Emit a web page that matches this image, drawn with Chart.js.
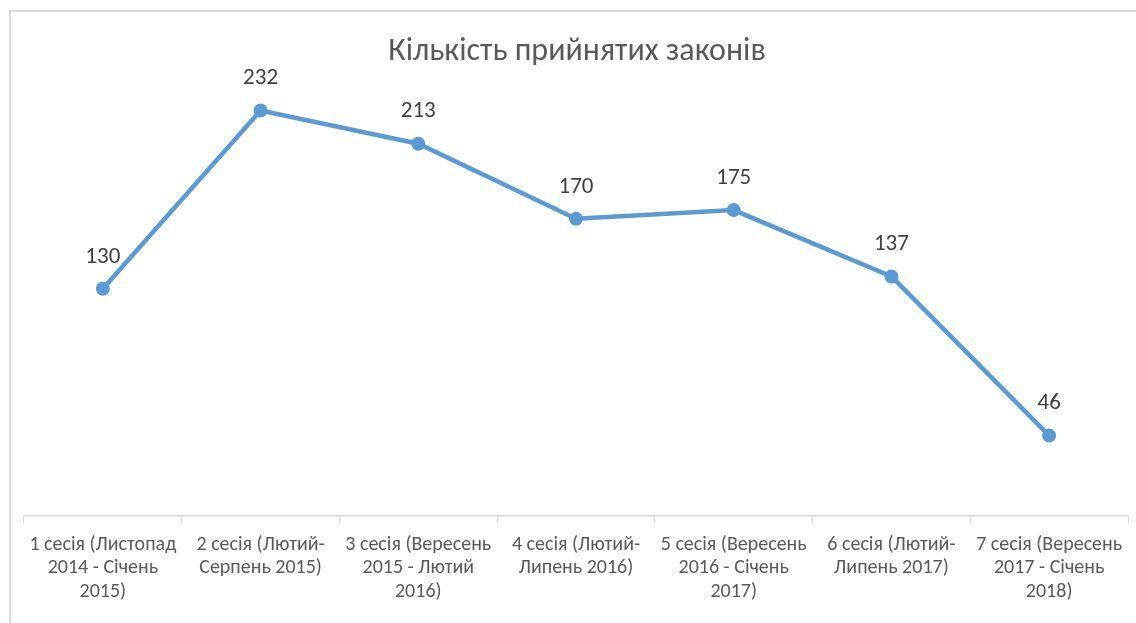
<!DOCTYPE html>
<html>
<head>
<meta charset="utf-8">
<script src="https://cdn.jsdelivr.net/npm/chart.js@4/dist/chart.umd.min.js"></script>
<style>
    html, body { margin: 0; padding: 0; background: #ffffff; overflow: hidden; }
    #frame {
        position: absolute; left: 9px; top: 10px; width: 1200px; height: 700px;
        border-top: 2px solid #d9d9d9; border-left: 2px solid #d9d9d9;
    }
    #wrap { position: absolute; left: 0; top: 0; width: 1136px; height: 623px; }
</style>
</head>
<body>
<div id="frame"></div>
<div id="wrap"><canvas id="chart"></canvas></div>
<script>
'use strict';

// Chart data
const titleText = 'Кількість прийнятих законів';
const sessions = [
    ['1 сесія (Листопад', '2014 - Січень', '2015)'],
    ['2 сесія (Лютий-', 'Серпень 2015)'],
    ['3 сесія (Вересень', '2015 - Лютий', '2016)'],
    ['4 сесія (Лютий-', 'Липень 2016)'],
    ['5 сесія (Вересень', '2016 - Січень', '2017)'],
    ['6 сесія (Лютий-', 'Липень 2017)'],
    ['7 сесія (Вересень', '2017 - Січень', '2018)']
];
const lawsPassed = [130, 232, 213, 170, 175, 137, 46];

const fontFamily = "Carlito, Lato, 'Open Sans', sans-serif";

// Value labels above points
const valueLabels = {
    id: 'valueLabels',
    afterDatasetsDraw(chart) {
        let ctx = chart.ctx;
        let meta = chart.getDatasetMeta(0);
        ctx.save();
        ctx.font = '23px ' + fontFamily;
        ctx.fillStyle = '#404040';
        ctx.textAlign = 'center';
        ctx.textBaseline = 'middle';
        meta.data.forEach((pt, i) => {
            ctx.fillText(String(chart.data.datasets[0].data[i]), pt.x, pt.y - 32);
        });
        ctx.restore();
    }
};

new Chart(document.getElementById('chart').getContext('2d'), {
    type: 'line',
    data: {
        labels: sessions,
        datasets: [{
            label: titleText,
            data: lawsPassed,
            borderColor: '#5b9bd5',
            backgroundColor: '#5b9bd5',
            borderWidth: 4.5,
            pointRadius: 6,
            pointBorderWidth: 2,
            pointBackgroundColor: '#5b9bd5',
            pointBorderColor: '#5b9bd5',
            tension: 0
        }]
    },
    options: {
        responsive: true,
        maintainAspectRatio: false,
        animation: false,
        layout: { padding: { left: 24, right: 6, top: 0, bottom: 0 } },
        plugins: {
            legend: { display: false },
            tooltip: { enabled: false },
            title: {
                display: true,
                text: titleText,
                color: '#595959',
                font: { family: fontFamily, size: 32, weight: 'normal', lineHeight: 1.2 },
                padding: { top: 33, bottom: 7.6 }
            }
        },
        scales: {
            x: {
                offset: true,
                grid: {
                    offset: true,
                    drawOnChartArea: false,
                    drawTicks: true,
                    tickLength: 7,
                    color: '#d9d9d9'
                },
                border: { display: true, color: '#d9d9d9', width: 1.5 },
                ticks: {
                    color: '#595959',
                    padding: 10,
                    maxRotation: 0,
                    autoSkip: false,
                    font: { family: fontFamily, size: 20, lineHeight: 1.175 }
                },
                afterFit(scale) {
                    scale.height = 107;
                }
            },
            y: {
                display: false,
                min: 0,
                max: 250
            }
        }
    },
    plugins: [valueLabels]
});
</script>
</body>
</html>
